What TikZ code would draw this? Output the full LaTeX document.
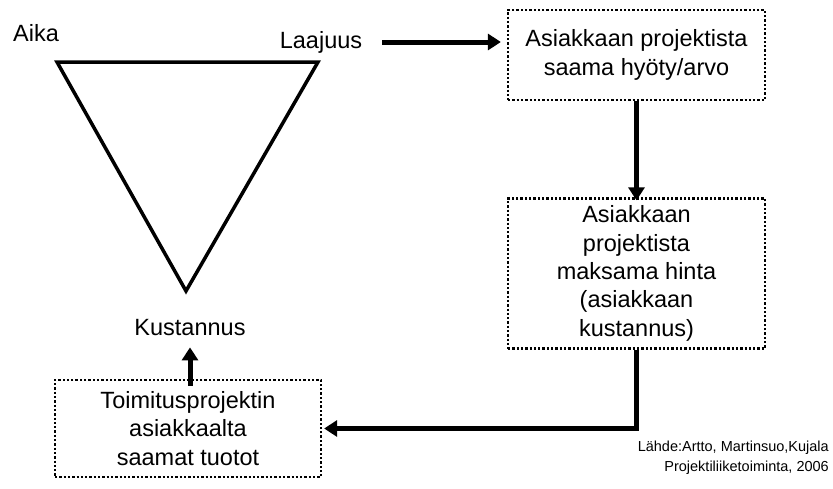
\documentclass[tikz,border=0pt]{standalone}
\usepackage{fontspec}
\setmainfont{Liberation Sans}
\usetikzlibrary{arrows.meta, positioning}

\begin{document}
\begin{tikzpicture}[
  x=1pt, y=-1pt,
  laatikko/.style={
    draw=black, line width=2.3pt,
    dash pattern=on 2.3pt off 2pt,
    minimum width=257pt, align=center,
    font=\fontsize{23.5}{28.3}\selectfont, inner sep=0pt
  },
  teksti/.style={font=\fontsize{23.5}{28}\selectfont, inner sep=0pt},
  nuoli/.style={-{Triangle[length=13pt,width=16pt]}, line width=5pt, black}
]
\useasboundingbox (0,0) rectangle (833,488);

% kolmio
\coordinate (vasen) at (57,62);
\coordinate (oikea) at (318,62);
\coordinate (karki) at (186,291);
\draw[line width=3.5pt, line join=miter] (vasen) -- (oikea) -- (karki) -- cycle;

\node[teksti] (aika) at (36,33) {Aika};
\node[teksti] (laajuus) at (321,42) {Laajuus};
\node[teksti] (kustannus) at (190,328) {Kustannus};

% laatikot
\node[laatikko, minimum height=90pt] (hyoty) at (636.5,55)
  {Asiakkaan projektista\\ saama hyöty/arvo};
\node[laatikko, minimum height=150pt] (hinta) at (636.5,273.5)
  {Asiakkaan\\ projektista\\ maksama hinta\\ (asiakkaan\\ kustannus)};
\node[laatikko, minimum width=266pt, minimum height=97pt] (tuotot) at (188,428.5)
  {Toimitusprojektin\\ asiakkaalta\\ saamat tuotot};

\node[font=\fontsize{14.5}{20}\selectfont, align=right, anchor=north east,
  inner sep=0pt] (lahde) at (829,441)
  {Lähde:Artto, Martinsuo,Kujala\\ Projektiliiketoiminta, 2006};

% nuolet
\draw[nuoli] ([xshift=20pt]laajuus.east) -- ([xshift=-6pt]hyoty.west |- laajuus);
\draw[nuoli] (hyoty.south) -- ([yshift=-3pt]hinta.north);
\draw[nuoli, line join=miter] (hinta.south) |- ([xshift=2pt]tuotot.east);
\draw[nuoli] ([yshift=-7pt]tuotot.north -| kustannus) -- ([yshift=-11pt]kustannus.south);

\end{tikzpicture}
\end{document}
